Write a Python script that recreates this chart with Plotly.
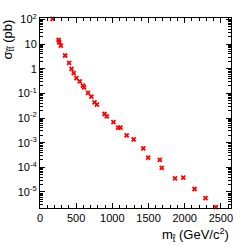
import plotly.graph_objects as go

mass = [174, 257, 265, 288, 347, 402, 435, 466, 503, 549, 594, 608, 663, 709,
        754, 786, 892, 923, 1015, 1080, 1111, 1198, 1294, 1427, 1495, 1656,
        1683, 1866, 1980, 2136, 2287, 2432]
xsec = [105, 14.7, 11.9, 8.7, 3.45, 1.74, 0.98, 0.66, 0.42, 0.31, 0.205, 0.177,
        0.105, 0.074, 0.043, 0.035, 0.0146, 0.0117, 0.0068, 0.0041, 0.0041,
        0.0020, 0.00136, 5.9e-4, 2.5e-4, 2.0e-4, 9.5e-5, 3.6e-5, 3.8e-5,
        1.32e-5, 5.6e-6, 2.45e-6]

x_ticks = [0, 500, 1000, 1500, 2000, 2500]
x_ticklabels = ["0", "500", "1000", "1500", "2000", "2500"]
y_ticks = [1e2, 1e1, 1, 1e-1, 1e-2, 1e-3, 1e-4, 1e-5]
y_ticklabels = ["10<sup>2</sup>", "10", "1", "10<sup>-1</sup>", "10<sup>-2</sup>",
                "10<sup>-3</sup>", "10<sup>-4</sup>", "10<sup>-5</sup>"]

y_minor = [m * 10.0 ** e for e in range(-6, 3) for m in range(2, 10)]
x_minor = list(range(0, 2700, 100))

font = "Liberation Sans Narrow, Liberation Sans, Arial, sans-serif"

fig = go.Figure()
fig.add_trace(go.Scatter(
    x=mass, y=xsec, mode="markers",
    marker=dict(symbol="x-thin", size=4, color="red",
                line=dict(width=1.8, color="red")),
    showlegend=False, cliponaxis=False,
))

fig.update_layout(
    width=245, height=245,
    margin=dict(l=40, r=13, t=13, b=37),
    paper_bgcolor="white", plot_bgcolor="white",
    font=dict(family=font, size=11, color="black"),
    xaxis=dict(
        range=[0, 2640], showline=True, linecolor="black", linewidth=1,
        mirror="ticks", ticks="inside", ticklen=5, tickcolor="black",
        tickmode="array", tickvals=x_ticks, ticktext=x_ticklabels,
        showgrid=False, zeroline=False,
        minor=dict(tickmode="array", tickvals=x_minor, ticks="inside",
                   ticklen=3, tickcolor="black", showgrid=False),
    ),
    yaxis=dict(
        type="log", range=[-5.65, 2.06], showline=True, linecolor="black",
        linewidth=1, mirror="ticks", ticks="inside", ticklen=5,
        tickcolor="black", tickmode="array", tickvals=y_ticks,
        ticktext=y_ticklabels, showgrid=False, zeroline=False,
        minor=dict(tickmode="array", tickvals=y_minor, ticks="inside",
                   ticklen=3, tickcolor="black", showgrid=False),
    ),
    annotations=[
        dict(text="σ<sub>t̃t̃</sub> (pb)", xref="paper", yref="paper",
             x=-0.17, y=1.0, xanchor="center", yanchor="top",
             textangle=-90, showarrow=False,
             font=dict(family=font, size=13)),
        dict(text="m<sub>t̃</sub> (GeV/c<sup>2</sup>)", xref="paper", yref="paper",
             x=1.0, y=-0.085, xanchor="right", yanchor="top",
             showarrow=False, font=dict(family=font, size=13)),
    ],
)

fig.write_html("out.html", config={"displayModeBar": False},
               post_script="document.body.style.margin='0';document.body.style.overflow='hidden';")
